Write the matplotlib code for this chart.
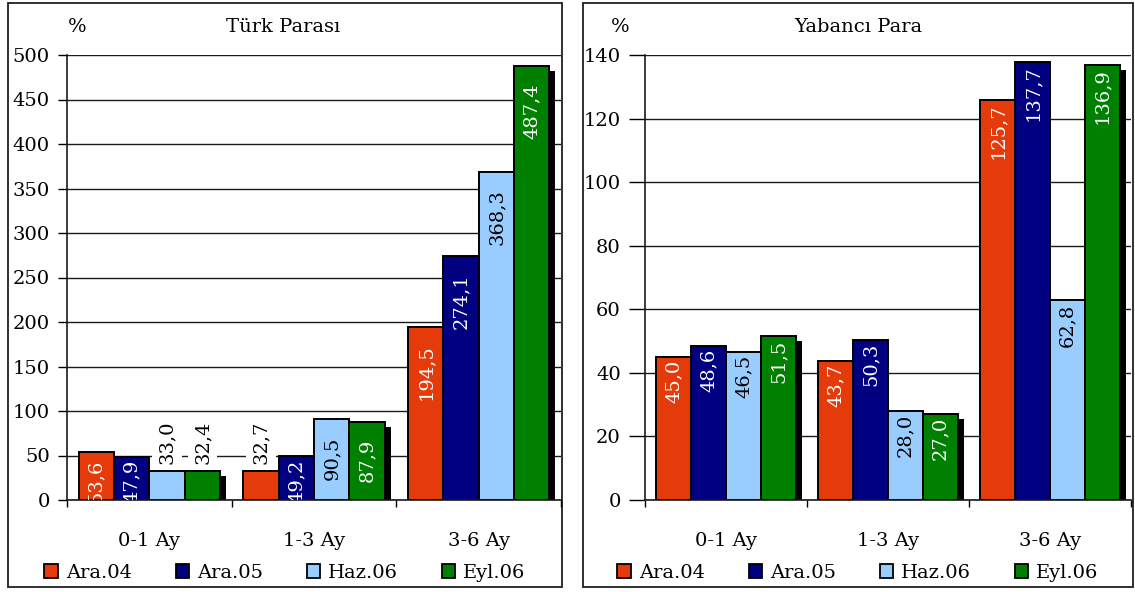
import matplotlib
matplotlib.use("Agg")
import matplotlib.pyplot as plt
from matplotlib.patches import Rectangle, Patch
from matplotlib import transforms
import numpy as np

categories = ["0-1 Ay", "1-3 Ay", "3-6 Ay"]
series_names = ["Ara.04", "Ara.05", "Haz.06", "Eyl.06"]
colors = ["#E53A09", "#000080", "#99CCFF", "#008000"]
label_colors = ["white", "white", "black", "white"]

tl_title = "Türk Parası"
tl_values = [
    [53.6, 32.7, 194.5],   # Ara.04
    [47.9, 49.2, 274.1],   # Ara.05
    [33.0, 90.5, 368.3],   # Haz.06
    [32.4, 87.9, 487.4],   # Eyl.06
]
tl_yticks = [0, 50, 100, 150, 200, 250, 300, 350, 400, 450, 500]

yp_title = "Yabancı Para"
yp_values = [
    [45.0, 43.7, 125.7],   # Ara.04
    [48.6, 50.3, 137.7],   # Ara.05
    [46.5, 28.0, 62.8],    # Haz.06
    [51.5, 27.0, 136.9],   # Eyl.06
]
yp_yticks = [0, 20, 40, 60, 80, 100, 120, 140]

plt.rcParams["font.family"] = ["DejaVu Serif"]
FS = 14

W, H = 1135, 592
fig = plt.figure(figsize=(W / 100, H / 100), dpi=100)


def fx(px):
    return px / W


def fy(py):
    return 1 - py / H


def draw_panel(ax_rect, frame, title, values, yticks, tick_len, max_pad, title_x, pct_x):
    # outer panel border
    fl, ft, fr, fb = frame
    fig.add_artist(Rectangle((fx(fl), fy(fb)), fx(fr - fl), (fb - ft) / H,
                             transform=fig.transFigure, fill=False,
                             edgecolor="#202020", linewidth=1.3, zorder=0))
    ax = fig.add_axes(ax_rect)
    ymax = yticks[-1]
    ax.set_xlim(-0.5, len(categories) - 0.5)
    ax.set_ylim(0, ymax)
    ax.set_axisbelow(True)
    ax.yaxis.grid(True, color="#1a1a1a", linewidth=1.0, zorder=0.5)
    for s in ("top", "right"):
        ax.spines[s].set_visible(False)
    for s in ("left", "bottom"):
        ax.spines[s].set_color("#1a1a1a")
        ax.spines[s].set_linewidth(1.2)

    ax.set_yticks(yticks)
    ax.tick_params(axis="y", direction="out", length=tick_len, width=1.0,
                   labelsize=FS, pad=6)
    x = np.arange(len(categories))
    ax.set_xticks(x)
    ax.set_xticklabels(categories, fontsize=FS)
    ax.tick_params(axis="x", which="major", length=0, pad=23)
    ax.set_xticks(np.arange(len(categories) + 1) - 0.5, minor=True)
    ax.tick_params(axis="x", which="minor", direction="out", length=5, width=1.0)

    axis_px = ax_rect[3] * H
    n = len(values)
    width = 0.215
    offsets = (np.arange(n) - (n - 1) / 2) * width
    shadow_tr = transforms.offset_copy(ax.transData, fig, x=6, y=-5, units="dots")
    up_tr = transforms.offset_copy(ax.transData, fig, x=0, y=7, units="dots")

    for i, (vals, col) in enumerate(zip(values, colors)):
        xs = x + offsets[i]
        if i == n - 1:
            # drop shadow on the last series
            ax.bar(xs, vals, width, color="black", transform=shadow_tr, zorder=1,
                   linewidth=0)
        ax.bar(xs, vals, width, color=col, edgecolor="black", linewidth=1.4,
               zorder=2, label=series_names[i])
        for xv, v in zip(xs, vals):
            txt = f"{v:.1f}".replace(".", ",")
            bar_px = v / ymax * axis_px
            if bar_px < 36:
                ax.text(xv, v, txt, transform=up_tr, rotation=90, ha="center",
                        va="bottom", fontsize=FS, color="black", zorder=3,
                        bbox=dict(boxstyle="square,pad=0.3", fc="white", ec="none"))
            else:
                pad = min(max_pad, max(1.0, bar_px - 40))
                down_tr = transforms.offset_copy(ax.transData, fig, x=0, y=-pad,
                                                 units="dots")
                ax.text(xv, v, txt, transform=down_tr, rotation=90, ha="center",
                        va="top", fontsize=FS, color=label_colors[i], zorder=3,
                        clip_on=True)

    fig.text(fx(title_x), fy(27), title, ha="center", va="center", fontsize=FS)
    fig.text(fx(pct_x), fy(27), "%", ha="center", va="center", fontsize=FS)

    handles = [Patch(facecolor=c, edgecolor="black", linewidth=1.3) for c in colors]
    ax.legend(handles, series_names, loc="center", ncol=4, frameon=False,
              bbox_to_anchor=(fx((fl + fr) / 2), fy(573)),
              bbox_transform=fig.transFigure, fontsize=FS,
              handlelength=0.7, handleheight=0.7, handletextpad=0.4,
              columnspacing=2.25, borderaxespad=0, borderpad=0)
    return ax


draw_panel([fx(67), fy(500), fx(561 - 67), (500 - 55) / H], (8, 3, 562, 587),
           tl_title, tl_values, tl_yticks, tick_len=6.5, max_pad=17,
           title_x=283, pct_x=77)
draw_panel([fx(645), fy(500), fx(1131 - 645), (500 - 55) / H], (583, 3, 1133, 587),
           yp_title, yp_values, yp_yticks, tick_len=11.5, max_pad=3,
           title_x=858, pct_x=620)

fig.savefig("out.png", dpi=100)
